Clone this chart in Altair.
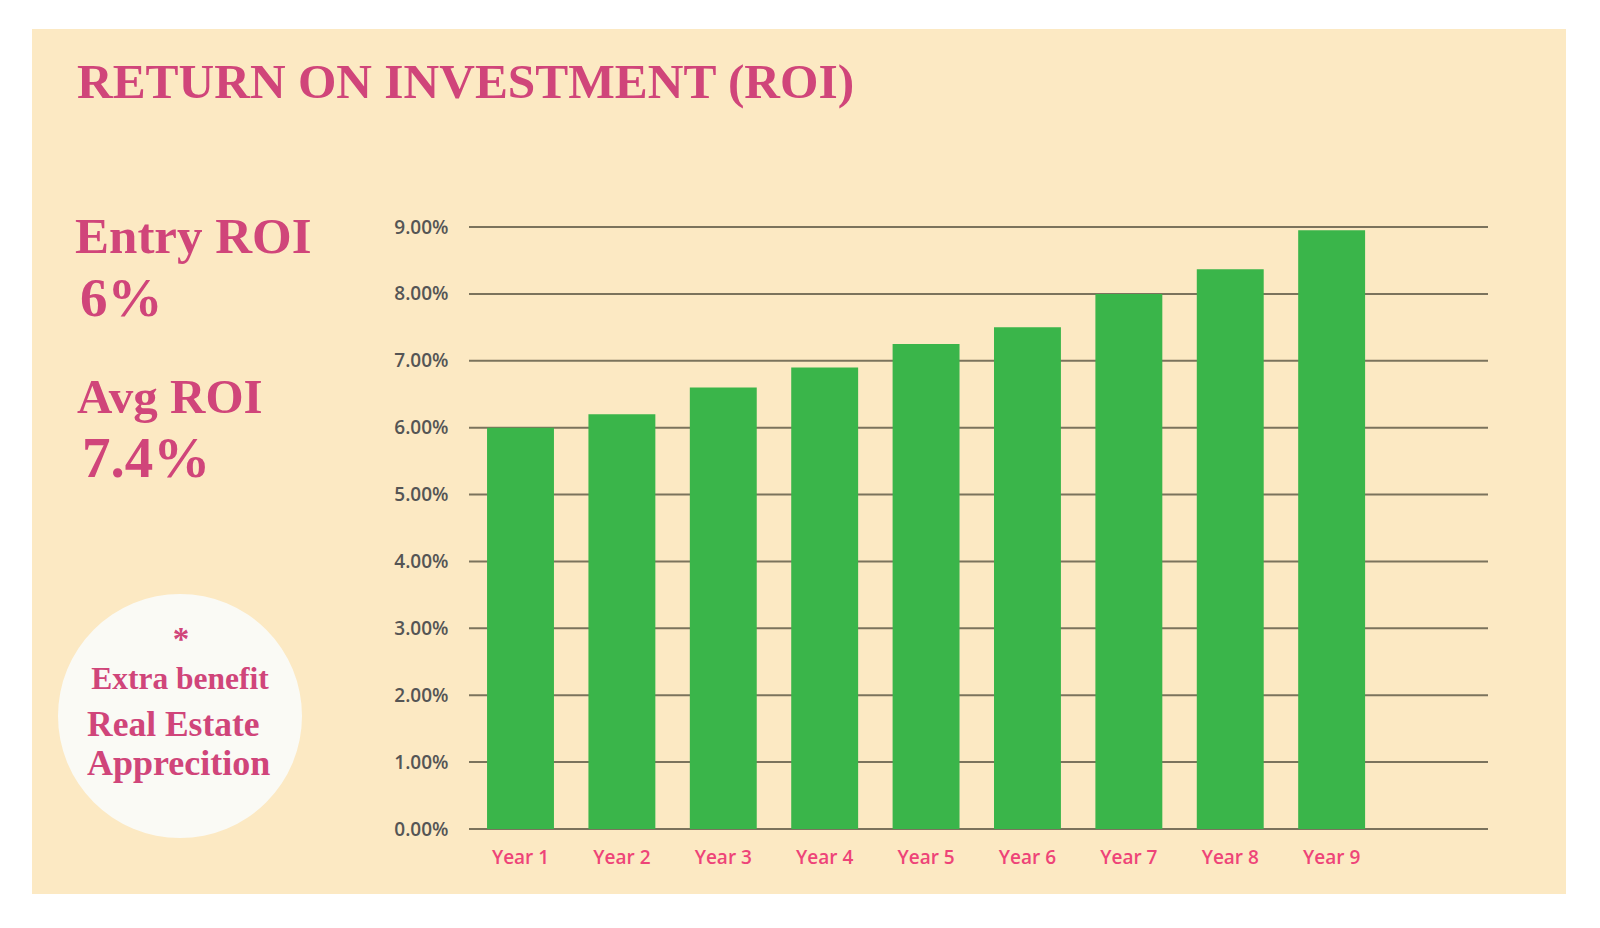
import altair as alt
import pandas as pd

# ---- data ----
years = ["Year 1", "Year 2", "Year 3", "Year 4", "Year 5", "Year 6", "Year 7", "Year 8", "Year 9"]
roi = [6.0, 6.2, 6.6, 6.9, 7.25, 7.5, 8.0, 8.37, 8.95]
y_ticks = [0, 1, 2, 3, 4, 5, 6, 7, 8, 9]

title_text = "RETURN ON INVESTMENT (ROI)"
entry_label = "Entry ROI"
entry_value = "6%"
avg_label = "Avg ROI"
avg_value = "7.4%"
note_star = "*"
note_line1 = "Extra benefit"
note_line2 = "Real Estate"
note_line3 = "Apprecition"

df = pd.DataFrame({"year": years, "roi": roi})
ticks_df = pd.DataFrame({"roi": y_ticks})
one = pd.DataFrame({"k": [0]})

W, H = 1019, 602
PANEL = "#FCE9C3"
PINK = "#D0457A"
SERIF = "Liberation Serif"

y_axis = alt.Axis(
    title=None, values=y_ticks, labelExpr="format(datum.value, '.2f') + '%'",
    grid=False, domain=False, ticks=False, tickSize=0, labelPadding=21,
    labelColor="#555555", labelFont="Open Sans", labelFontSize=19,
    labelFontWeight=600, zindex=1,
)
y_scale = alt.Scale(domain=[0, 9], nice=False)

bg = alt.Chart(one).mark_rect(color=PANEL).encode(
    x=alt.value(-437), x2=alt.value(1097), y=alt.value(-198), y2=alt.value(667)
)

grid = alt.Chart(ticks_df).mark_rule(color="#7B735C", strokeWidth=2).encode(
    y=alt.Y("roi:Q", scale=y_scale, axis=y_axis),
    x=alt.value(0),
    x2=alt.value(W),
)

bars = alt.Chart(df).mark_bar(color="#3AB54A").encode(
    x=alt.X(
        "year:N",
        sort=years,
        scale=alt.Scale(paddingInner=0.34, paddingOuter=0.695, align=0.128),
        axis=alt.Axis(
            title=None, labelAngle=0, labelColor="#EE4478", labelFont="Open Sans",
            labelFontSize=19, labelFontWeight=600, ticks=False, tickSize=0,
            domain=False, labelPadding=19, grid=False, zindex=1,
        ),
    ),
    y=alt.Y("roi:Q", scale=y_scale, axis=y_axis),
)

def txt(s, x, y, size, align="left", weight="bold", baseline="alphabetic"):
    return alt.Chart(one).mark_text(
        text=s, font=SERIF, fontSize=size, fontWeight=weight, color=PINK,
        align=align, baseline=baseline,
    ).encode(x=alt.value(x), y=alt.value(y))

circle = alt.Chart(one).mark_circle(color="#FAFAF5", opacity=1).encode(
    x=alt.value(-289), y=alt.value(489), size=alt.value(59536)
)

layers = [
    bg, grid, bars, circle,
    txt(title_text, -392, -129, 49.4),
    txt(entry_label, -394, 26, 51),
    txt(entry_value, -389, 89, 55),
    txt(avg_label, -392, 186, 49),
    txt(avg_value, -387, 250, 57),
    txt(note_star, -288, 397, 33, align="center", baseline="top"),
    txt(note_line1, -289, 462, 31.5, align="center"),
    txt(note_line2, -382, 509, 35.5),
    txt(note_line3, -382, 548, 36),
]

chart = alt.layer(*layers).properties(
    width=W,
    height=H,
    autosize=alt.AutoSizeParams(type="none"),
    padding={"left": 461, "top": 219, "right": 100, "bottom": 80},
    background="white",
).configure_view(stroke=None)

chart.save("out.html", embed_options={"renderer": "svg", "actions": False})
